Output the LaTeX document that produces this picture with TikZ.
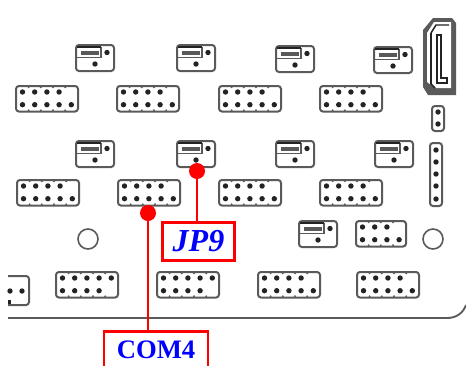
\documentclass[tikz,border=0pt]{standalone}
\usepackage{fontspec}
\usepackage{tikz}
\setmainfont{Liberation Serif}
\usetikzlibrary{positioning}
\usetikzlibrary{calc}
\definecolor{pcbline}{RGB}{90,90,90}
\definecolor{pinfill}{RGB}{35,35,35}
\tikzset{
  outline/.style={draw=pcbline, line width=1.5pt, rounded corners=2.2pt},
  pin/.style={fill=pinfill},
  bump/.style={fill=pcbline},
  redline/.style={draw=red, line width=2.1pt},
  reddot/.style={circle, fill=red, inner sep=0pt, minimum size=12pt},
  labelbox/.style={draw=red, line width=2.1pt, fill=white, inner sep=0pt, text=blue, font=\bfseries},
}
% block with pin rows: corner, width, top pins, bottom pins
\newcommand{\pinblock}[4]{
  \coordinate (b) at (#1);
  \draw[outline] (b) rectangle ([shift={(#2, 25.5)}]b);
  \foreach \i in {1,...,4} {
    \fill[bump] ([shift={(\i*12.2+0.4, 1.2)}]b) circle (1.1);
    \fill[bump] ([shift={(\i*12.2+0.4, 24.3)}]b) circle (1.1);
  }
  \foreach \i in {1,...,#3} \fill[pin] ([shift={(\i*12.2-5.7, 6)}]b) circle (2.7);
  \foreach \i in {1,...,#4} \fill[pin] ([shift={(\i*12.2-5.7, 18.7)}]b) circle (2.7);
}
% jumper footprint
\newcommand{\jumperblock}[1]{
  \coordinate (j) at (#1);
  \draw[outline] (j) rectangle ([shift={(38, 26)}]j);
  \draw[draw=pcbline, line width=1.2pt] ([shift={(0.5, 12.5)}]j) -- ([shift={(25, 12.5)}]j) -- ([shift={(25, 2)}]j);
  \draw[draw=pinfill, line width=1.5pt] ([shift={(1, 2)}]j) -- ([shift={(25, 2)}]j);
  \fill[gray!70!black] ([shift={(5, 5.5)}]j) rectangle ([shift={(23, 9.5)}]j);
  \fill[pin] ([shift={(31, 7.5)}]j) circle (2.7);
  \fill[pin] ([shift={(19, 19)}]j) circle (2.7);
}
\begin{document}
\begin{tikzpicture}[x=0.75pt, y=-0.75pt]
\useasboundingbox (0, 0) rectangle (466, 365);
\clip (0, 0) rectangle (466, 365);

\jumperblock{76, 45}
\jumperblock{177, 45}
\jumperblock{276, 46}
\jumperblock{374, 47}

\pinblock{16, 86}{62}{4}{5}
\pinblock{117, 86}{62}{4}{5}
\pinblock{219, 86}{62}{4}{5}
\pinblock{320, 86}{62}{4}{5}

\jumperblock{76, 141}
\jumperblock{177, 141}
\jumperblock{276, 141}
\jumperblock{375, 141}

\pinblock{17, 180}{62}{4}{5}
\pinblock{118, 180}{62}{4}{5}
\pinblock{219, 180}{62}{4}{5}
\pinblock{320, 180}{62}{4}{5}

\jumperblock{299, 221}
\pinblock{356, 221}{50}{3}{4}

\pinblock{56, 272}{62}{5}{4}
\pinblock{157, 272}{62}{5}{4}
\pinblock{258, 272}{62}{4}{5}
\pinblock{357, 272}{62}{4}{5}

% mounting holes
\draw[pcbline, line width=1.2pt] (88, 239) circle (10);
\draw[pcbline, line width=1.2pt] (433, 239) circle (10);

% cut connector on the board edge
\draw[outline] (8, 276) -- (29, 276) -- (29, 305) -- (8, 305);
\fill[pin] (10, 291) circle (2.7);
\fill[pin] (22, 291) circle (2.7);
\fill[pin] (8, 300) rectangle (11, 304);

% board edge
\draw[pcbline, line width=1.4pt] (8, 318) -- (447, 318) to[out=0, in=-110] (466, 305);

% two small vertical headers
\draw[outline] (432, 106) rectangle (444, 131);
\fill[pin] (438, 112) circle (2.7);
\fill[pin] (438, 124) circle (2.7);
\draw[outline] (430, 143) rectangle (442, 206);
\foreach \y in {150, 162, 174, 186, 199} \fill[pin] (436, \y) circle (2.7);

% sata connector
\fill[pcbline] (423, 30) -- (433, 18) -- (452, 18) -- (456, 23) -- (456, 95) -- (428, 95) -- (423, 87) -- cycle;
\fill[white] (427, 33) -- (434, 22) -- (451, 22) -- (451, 88) -- (435, 88) -- (427, 82) -- cycle;
\draw[pinfill, line width=1.1pt] (437, 35) -- (441, 35) -- (441, 78) -- (447, 78) -- (447, 83) -- (437, 83) -- cycle;
\draw[pinfill, line width=1.3pt] (431, 33) -- (431, 84) -- (435, 88);
\draw[pinfill, line width=1.1pt] (431, 33) -- (436, 25) -- (449, 25);

% callouts
\node[reddot] (jp9dot) at (197, 171) {};
\node[labelbox, minimum width=54pt, minimum height=29pt, font=\bfseries\itshape\fontsize{24}{24}\selectfont] (jp9label) at (198.5, 241.5) {JP9};
\draw[redline] (jp9dot) -- (jp9dot |- jp9label.north);

\node[reddot] (com4dot) at (148, 213) {};
\node[labelbox, minimum width=78pt, minimum height=27pt, anchor=north, font=\bfseries\fontsize{20}{20}\selectfont] (com4label) at (156, 330) {COM4};
\draw[redline] (com4dot) -- (com4dot |- com4label.north);
\end{tikzpicture}
\end{document}
